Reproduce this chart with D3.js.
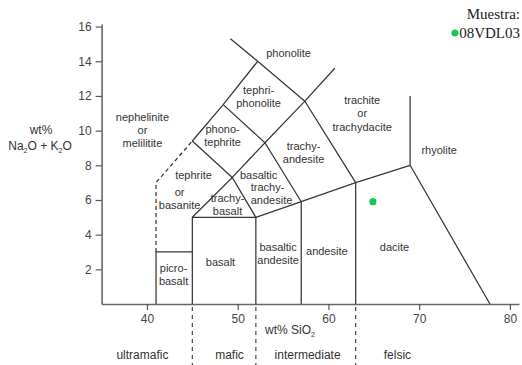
<!DOCTYPE html>
<html><head><meta charset="utf-8">
<script src="https://cdn.jsdelivr.net/npm/d3@7"></script>
<style>
body{margin:0;background:#fff;}
svg{display:block;}
</style></head>
<body><svg id="c" width="522" height="365"></svg>
<script>
// ---- data ----
const xTicks = [40, 50, 60, 70, 80];
const yTicks = [2, 4, 6, 8, 10, 12, 14, 16];
// field boundaries (SiO2, Na2O+K2O)
const solidBoundaries = [
  [[41,0],[41,3],[45,3]],
  [[45,0],[45,5],[52,5],[52,0]],
  [[52,5],[57,5.9],[63,7],[69,8]],
  [[57,0],[57,5.9]],
  [[63,0],[63,7]],
  [[69,8],[77.8,0]],
  [[69,8],[69,12]],
  [[45,5],[49.4,7.3],[52,5]],
  [[49.4,7.3],[53,9.3],[57,5.9]],
  [[53,9.3],[57.4,11.7],[63,7]],
  [[45,9.4],[49.4,7.3]],
  [[45,9.4],[48.4,11.5],[52.2,14]],
  [[48.4,11.5],[53,9.3]],
  [[49.2,15.3],[52.2,14],[57.4,11.7]],
  [[57.4,11.7],[60.7,13.6]]
];
const dashedBoundaries = [
  [[41,3],[41,7],[45,9.4]]
];
const classDividers = [45, 52, 63];
const classNames = ["ultramafic", "mafic", "intermediate", "felsic"];
const classCenters = [39.5, 49.1, 57.7, 67.6];
// field labels: lines, centre SiO2, centre Na2O+K2O
const fieldLabels = [
  {lines:["phonolite"], x:55.6, y:14.48},
  {lines:["tephri-","phonolite"], x:52.3, y:11.97},
  {lines:["phono-","tephrite"], x:48.33, y:9.72},
  {lines:["trachy-","andesite"], x:57.26, y:8.71},
  {lines:["basaltic"], x:52.3, y:7.44},
  {lines:["trachy-"], x:53.29, y:6.75},
  {lines:["andesite"], x:53.73, y:6.0},
  {lines:["trachy-","basalt"], x:48.88, y:5.71},
  {lines:["tephrite"], x:45.13, y:7.44},
  {lines:["or","basanite"], x:43.6, y:6.06},
  {lines:["nephelinite","or","melilitite"], x:39.5, y:10.03},
  {lines:["picro-","basalt"], x:42.93, y:1.70},
  {lines:["basalt"], x:48.1, y:2.44},
  {lines:["basaltic","andesite"], x:54.45, y:2.91},
  {lines:["andesite"], x:59.82, y:3.02},
  {lines:["dacite"], x:67.28, y:3.3},
  {lines:["trachite","or","trachydacite"], x:63.72, y:10.99},
  {lines:["rhyolite"], x:72.2, y:8.88}
];
const sampleNames = ["08VDL03"];
const sampleSiO2 = [64.9];
const sampleAlk = [5.9];

// ---- chart ----
const svg = d3.select("#c");
const x = d3.scaleLinear().domain([35, 81]).range([101.6, 519]);
const y = d3.scaleLinear().domain([0, 16.15]).range([304, 24]);
const line = d3.line().x(d => x(d[0])).y(d => y(d[1]));
const FONT = "'Liberation Sans', Arial, sans-serif";

// boundaries
svg.append("g").selectAll("path").data(solidBoundaries).join("path")
  .attr("d", line).attr("fill", "none").attr("stroke", "#363636").attr("stroke-width", 1.25)
  .attr("stroke-linejoin", "miter");
svg.append("g").selectAll("path").data(dashedBoundaries).join("path")
  .attr("d", line).attr("fill", "none").attr("stroke", "#363636").attr("stroke-width", 1.25)
  .attr("stroke-dasharray", "4,3");

// class dividers below axis
svg.append("g").selectAll("line").data(classDividers).join("line")
  .attr("x1", d => x(d)).attr("x2", d => x(d)).attr("y1", 307).attr("y2", 365)
  .attr("stroke", "#444").attr("stroke-width", 1.2).attr("stroke-dasharray", "4,4");

// axes
const xAxis = svg.append("g").attr("transform", `translate(0,${y(0)})`)
  .call(d3.axisBottom(x).tickValues(xTicks).tickSize(6).tickSizeOuter(0).tickPadding(4));
const yAxis = svg.append("g").attr("transform", `translate(${x(35)},0)`)
  .call(d3.axisLeft(y).tickValues(yTicks).tickSize(6).tickSizeOuter(0).tickPadding(4));
[xAxis, yAxis].forEach(a => {
  a.select(".domain").attr("stroke", "#666").attr("stroke-width", 1.6);
  a.selectAll(".tick line").attr("stroke", "#555").attr("stroke-width", 1.2);
  a.selectAll(".tick text").attr("font-family", FONT).attr("font-size", 12).attr("fill", "#444");
});

// field labels
const fl = svg.append("g").attr("font-family", FONT).attr("font-size", 11)
  .attr("fill", "#333").attr("text-anchor", "middle");
fieldLabels.forEach(L => {
  const n = L.lines.length;
  const t = fl.append("text").attr("x", x(L.x)).attr("y", y(L.y));
  L.lines.forEach((s, i) => {
    t.append("tspan").attr("x", x(L.x))
      .attr("dy", i === 0 ? `${0.35 - (n - 1) * 0.6}em` : "1.2em").text(s);
  });
});

// axis titles
const yl = svg.append("text").attr("font-family", FONT).attr("font-size", 12)
  .attr("fill", "#333").attr("text-anchor", "middle");
yl.append("tspan").attr("x", 41).attr("y", 134).text("wt%");
const yl2 = svg.append("text").attr("font-family", FONT).attr("font-size", 12)
  .attr("fill", "#333").attr("text-anchor", "middle").attr("x", 40).attr("y", 150);
yl2.append("tspan").text("Na");
yl2.append("tspan").attr("font-size", 7).attr("dy", 3).text("2");
yl2.append("tspan").attr("dy", -3).text("O + K");
yl2.append("tspan").attr("font-size", 7).attr("dy", 3).text("2");
yl2.append("tspan").attr("dy", -3).text("O");

const xl = svg.append("text").attr("font-family", FONT).attr("font-size", 12)
  .attr("fill", "#333").attr("x", 265).attr("y", 334);
xl.append("tspan").text("wt% SiO");
xl.append("tspan").attr("font-size", 7).attr("dy", 3).text("2");

// class names
svg.append("g").selectAll("text").data(classNames).join("text")
  .attr("x", (d, i) => x(classCenters[i])).attr("y", 359)
  .attr("text-anchor", "middle").attr("font-family", FONT).attr("font-size", 12)
  .attr("fill", "#333").text(d => d);

// samples
svg.append("g").selectAll("circle").data(sampleNames).join("circle")
  .attr("cx", (d, i) => x(sampleSiO2[i])).attr("cy", (d, i) => y(sampleAlk[i]))
  .attr("r", 3.6).attr("fill", "#1fc35c");

// legend
const SERIF = "'Liberation Serif', 'Times New Roman', serif";
svg.append("text").attr("x", 520).attr("y", 19).attr("text-anchor", "end")
  .attr("font-family", SERIF).attr("font-size", 15).attr("fill", "#222").text("Muestra:");
const lg = svg.append("g").selectAll("g").data(sampleNames).join("g")
  .attr("transform", (d, i) => `translate(0,${38 + i * 18})`);
lg.append("circle").attr("cx", 455).attr("cy", -5).attr("r", 3.6).attr("fill", "#1fc35c");
lg.append("text").attr("x", 520).attr("text-anchor", "end").attr("font-family", SERIF)
  .attr("font-size", 15).attr("fill", "#222").text(d => d);
</script>
</body></html>
